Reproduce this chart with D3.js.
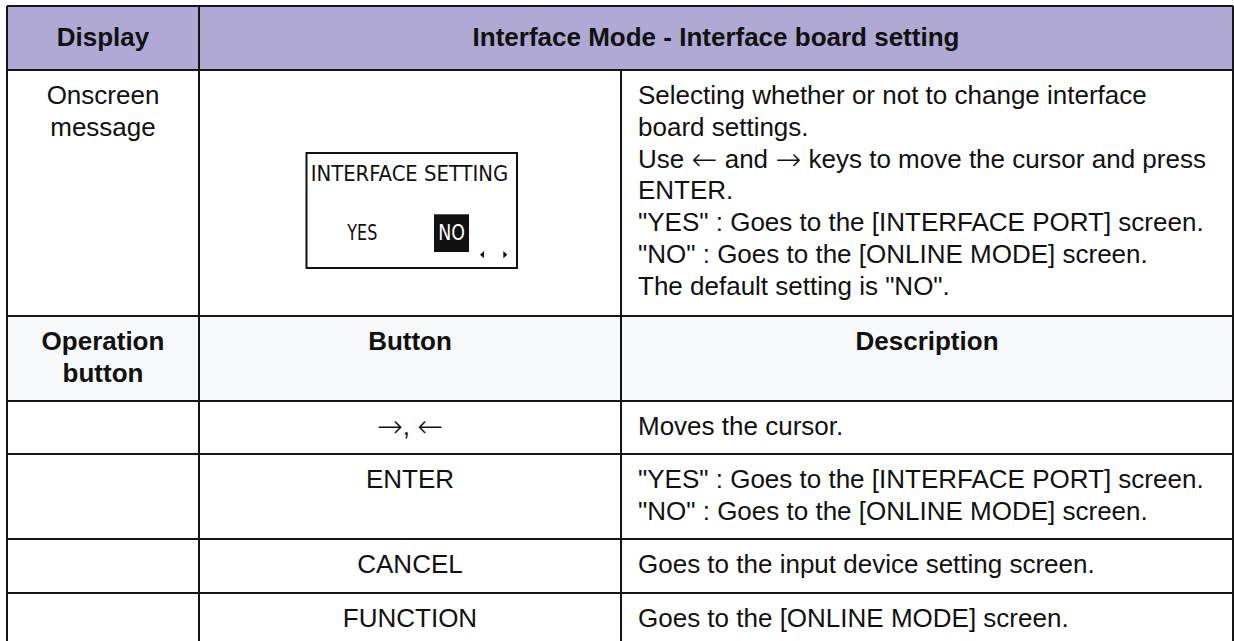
<!DOCTYPE html>
<html>
<head>
<meta charset="utf-8">
<script src="https://cdn.jsdelivr.net/npm/d3@7"></script>
<style>
  html, body { margin: 0; padding: 0; background: #fff; }
  svg { display: block; }
  text { font-family: "Liberation Sans", Arial, Helvetica, sans-serif; fill: #111; }
  tspan.arrow { font-family: "DejaVu Sans", sans-serif; font-weight: 200; font-size: 31px; }
</style>
</head>
<body>
<script>
// ---------- content (data) ----------
const headerLabels = ["Display", "Interface Mode - Interface board setting"];
const displayLabelLines = ["Onscreen", "message"];
const screenTitle = "INTERFACE SETTING";
const screenOptions = ["YES", "NO"];
const selectedOption = "NO";
const messageLines = [
  "Selecting whether or not to change interface",
  "board settings.",
  "Use \u2190 and \u2192 keys to move the cursor and press",
  "ENTER.",
  "\"YES\" : Goes to the [INTERFACE PORT] screen.",
  "\"NO\" : Goes to the [ONLINE MODE] screen.",
  "The default setting is \"NO\"."
];
const operationHeaders = [["Operation", "button"], ["Button"], ["Description"]];
const buttonNames = ["\u2192, \u2190", "ENTER", "CANCEL", "FUNCTION"];
const buttonDescriptions = [
  ["Moves the cursor."],
  ["\"YES\" : Goes to the [INTERFACE PORT] screen.", "\"NO\" : Goes to the [ONLINE MODE] screen."],
  ["Goes to the input device setting screen."],
  ["Goes to the [ONLINE MODE] screen."]
];

// ---------- layout ----------
const W = 1234, H = 641;
const colEdges = [7, 199, 621, 1233];
const rowEdges = [6, 70, 316, 401, 454, 539, 593, 660];
const headerFill = "#AFA9D3";
const subHeaderFill = "#F7F8FA";
const lineColor = "#151515";
const fontSize = 26;
const lineH = 31.8;
const firstBaseline = 34;
const padLeft = 17;

const svg = d3.select("body").append("svg").attr("width", W).attr("height", H);

const x = i => colEdges[i];
const y = i => rowEdges[i];

// write text, rendering arrow glyphs in a font with long thin arrows
function richText(sel, str) {
  const parts = str.split(/([\u2190\u2192])/).filter(p => p.length);
  parts.forEach(p => {
    const t = sel.append("tspan").text(p);
    if (p === "\u2190" || p === "\u2192") t.attr("class", "arrow").attr("baseline-shift", "-2");
  });
}

// backgrounds
svg.append("rect").attr("x", x(0)).attr("y", y(0)).attr("width", x(3) - x(0)).attr("height", y(1) - y(0)).attr("fill", headerFill);
svg.append("rect").attr("x", x(0)).attr("y", y(2)).attr("width", x(3) - x(0)).attr("height", y(3) - y(2)).attr("fill", subHeaderFill);

// header texts
svg.append("text").attr("x", (x(0) + x(1)) / 2).attr("y", 45.5).attr("text-anchor", "middle")
  .attr("font-size", fontSize).attr("font-weight", "bold").text(headerLabels[0]);
svg.append("text").attr("x", (x(1) + x(3)) / 2).attr("y", 45.5).attr("text-anchor", "middle")
  .attr("font-size", fontSize).attr("font-weight", "bold").text(headerLabels[1]);

// display label
svg.selectAll(".dl").data(displayLabelLines).join("text").attr("class", "dl")
  .attr("x", (x(0) + x(1)) / 2).attr("y", (d, i) => y(1) + firstBaseline - 0.3 + i * lineH)
  .attr("text-anchor", "middle").attr("font-size", fontSize).text(d => d);

// message lines
svg.selectAll(".ml").data(messageLines).join("text").attr("class", "ml")
  .attr("x", x(2) + padLeft).attr("y", (d, i) => y(1) + firstBaseline + i * lineH)
  .attr("font-size", fontSize).each(function(d) { richText(d3.select(this), d); });

// LCD screen mock
const lcd = svg.append("g");
lcd.append("rect").attr("x", 306.5).attr("y", 153).attr("width", 210.5).attr("height", 115)
  .attr("fill", "#fff").attr("stroke", "#111").attr("stroke-width", 2);
const lcdFont = '"Liberation Sans Narrow", "DejaVu Sans Condensed", "Open Sans", sans-serif';
lcd.append("text").attr("x", 310.7).attr("y", 180.7).attr("font-size", 22)
  .style("font-family", lcdFont).attr("textLength", 197.6).attr("lengthAdjust", "spacingAndGlyphs")
  .text(screenTitle);
const optX = [347.3, 438.3];
const optW = [30, 26.7];
screenOptions.forEach((o, i) => {
  if (o === selectedOption) {
    lcd.append("rect").attr("x", 434).attr("y", 214.3).attr("width", 35).attr("height", 37.7).attr("fill", "#111");
  }
  lcd.append("text").attr("x", optX[i]).attr("y", 240).attr("font-size", 22)
    .style("font-family", lcdFont).style("fill", o === selectedOption ? "#fff" : "#111")
    .attr("textLength", optW[i]).attr("lengthAdjust", "spacingAndGlyphs").text(o);
});
lcd.append("path").attr("d", "M484,251 L480,254.7 L484,258.3 Z").attr("fill", "#111");
lcd.append("path").attr("d", "M503.3,251 L507.3,254.7 L503.3,258.3 Z").attr("fill", "#111");

// operation headers
operationHeaders.forEach((lines, c) => {
  svg.selectAll(".oh" + c).data(lines).join("text").attr("class", "oh" + c)
    .attr("x", (x(c) + x(c + 1)) / 2).attr("y", (d, i) => y(2) + firstBaseline + i * lineH)
    .attr("text-anchor", "middle").attr("font-size", fontSize).attr("font-weight", "bold").text(d => d);
});

// button rows
buttonNames.forEach((b, r) => {
  const top = y(3 + r);
  const t = svg.append("text").attr("x", (x(1) + x(2)) / 2).attr("y", top + firstBaseline)
    .attr("text-anchor", "middle").attr("font-size", fontSize);
  richText(t, b);
  svg.selectAll(".bd" + r).data(buttonDescriptions[r]).join("text").attr("class", "bd" + r)
    .attr("x", x(2) + padLeft).attr("y", (d, i) => top + firstBaseline + i * lineH)
    .attr("font-size", fontSize).text(d => d);
});

// grid lines
const grid = svg.append("g").attr("stroke", lineColor).attr("stroke-width", 2).attr("fill", "none");
rowEdges.slice(0, 7).forEach(v => {
  grid.append("line").attr("x1", x(0)).attr("x2", x(3)).attr("y1", v).attr("y2", v);
});
grid.append("line").attr("x1", x(0)).attr("x2", x(0)).attr("y1", y(0)).attr("y2", H + 10);
grid.append("line").attr("x1", x(3)).attr("x2", x(3)).attr("y1", y(0)).attr("y2", H + 10);
grid.append("line").attr("x1", x(1)).attr("x2", x(1)).attr("y1", y(0)).attr("y2", H + 10);
grid.append("line").attr("x1", x(2)).attr("x2", x(2)).attr("y1", y(1)).attr("y2", H + 10);
</script>
</body>
</html>
